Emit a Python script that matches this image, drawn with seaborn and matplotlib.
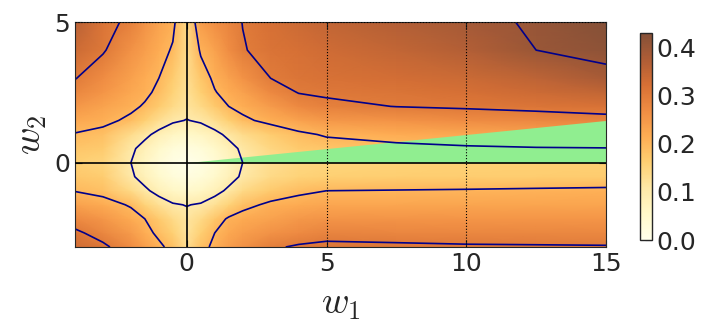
import numpy as np
import seaborn as sns
import matplotlib.pyplot as plt
from matplotlib.colors import ListedColormap

sns.set_style("ticks", {"xtick.direction": "in", "ytick.direction": "in"})
plt.rcParams["font.family"] = ["DejaVu Sans"]
plt.rcParams["mathtext.fontset"] = "cm"


# grid positions
w1 = [-4, -3, -2, -1.5, -1, -0.5, 0, 0.5, 1, 1.5, 2, 3, 4, 5, 7.5, 10, 12.5, 15]
w2 = [-3, -2.5, -2, -1.5, -1, -0.5, 0, 0.5, 1, 1.5, 2, 2.5, 3, 4, 5]

# loss values, one row per w2 value
loss_m30 = [0.33, 0.31, 0.27, 0.24, 0.21, 0.185, 0.13, 0.185, 0.21, 0.24, 0.26, 0.293, 0.306, 0.311, 0.308, 0.305, 0.304, 0.303]
loss_m25 = [0.31, 0.28, 0.245, 0.215, 0.19, 0.16, 0.12, 0.16, 0.2, 0.225, 0.24, 0.26, 0.273, 0.284, 0.282, 0.28, 0.279, 0.278]
loss_m20 = [0.275, 0.252, 0.22, 0.2, 0.17, 0.14, 0.115, 0.14, 0.175, 0.207, 0.22, 0.235, 0.249, 0.256, 0.256, 0.254, 0.254, 0.254]
loss_m15 = [0.236, 0.22, 0.195, 0.155, 0.127, 0.105, 0.098, 0.105, 0.127, 0.155, 0.185, 0.21, 0.22, 0.227, 0.228, 0.229, 0.23, 0.23]
loss_m10 = [0.198, 0.185, 0.14, 0.11, 0.082, 0.062, 0.05, 0.062, 0.082, 0.11, 0.14, 0.17, 0.19, 0.2, 0.202, 0.204, 0.207, 0.21]
loss_m05 = [0.175, 0.165, 0.108, 0.079, 0.05, 0.029, 0.018, 0.029, 0.05, 0.079, 0.108, 0.14, 0.155, 0.16, 0.163, 0.165, 0.166, 0.167]
loss_p00 = [0.16, 0.15, 0.1, 0.065, 0.035, 0.0125, 0.0, 0.0125, 0.035, 0.065, 0.1, 0.13, 0.145, 0.15, 0.155, 0.158, 0.16, 0.16]
loss_p05 = [0.178, 0.168, 0.11, 0.081, 0.052, 0.03, 0.019, 0.03, 0.052, 0.081, 0.11, 0.145, 0.168, 0.178, 0.188, 0.194, 0.197, 0.198]
loss_p10 = [0.197, 0.185, 0.135, 0.112, 0.085, 0.064, 0.053, 0.064, 0.085, 0.112, 0.135, 0.165, 0.19, 0.205, 0.217, 0.224, 0.232, 0.24]
loss_p15 = [0.224, 0.213, 0.19, 0.16, 0.13, 0.108, 0.098, 0.108, 0.13, 0.16, 0.19, 0.214, 0.234, 0.249, 0.258, 0.27, 0.277, 0.285]
loss_p20 = [0.251, 0.233, 0.21, 0.195, 0.168, 0.14, 0.118, 0.14, 0.17, 0.2, 0.214, 0.245, 0.275, 0.289, 0.301, 0.306, 0.312, 0.319]
loss_p25 = [0.28, 0.255, 0.225, 0.21, 0.19, 0.155, 0.125, 0.16, 0.197, 0.218, 0.235, 0.275, 0.302, 0.307, 0.314, 0.322, 0.335, 0.35]
loss_p30 = [0.302, 0.27, 0.236, 0.218, 0.2, 0.167, 0.13, 0.175, 0.21, 0.235, 0.258, 0.3, 0.312, 0.318, 0.326, 0.337, 0.356, 0.382]
loss_p40 = [0.335, 0.305, 0.26, 0.24, 0.218, 0.195, 0.137, 0.207, 0.235, 0.268, 0.297, 0.315, 0.322, 0.332, 0.348, 0.368, 0.4, 0.418]
loss_p50 = [0.36, 0.315, 0.29, 0.26, 0.235, 0.212, 0.14, 0.243, 0.265, 0.283, 0.301, 0.322, 0.336, 0.348, 0.368, 0.388, 0.405, 0.43]

levels = [0.1, 0.2, 0.3, 0.4]
cbar_ticks = [0.0, 0.1, 0.2, 0.3, 0.4]
x_ticks = [0, 5, 10, 15]
y_ticks = [0, 5]

# green wedge corners
wedge_x = [0, 15]
wedge_top = [0, 1.5]


Z = np.array([loss_m30, loss_m25, loss_m20, loss_m15, loss_m10, loss_m05, loss_p00,
              loss_p05, loss_p10, loss_p15, loss_p20, loss_p25, loss_p30, loss_p40, loss_p50])
X, Y = np.meshgrid(w1, w2)

# YlOrBr faded towards white
base = sns.color_palette("YlOrBr", as_cmap=True)(np.linspace(0, 1, 256))
base[:, :3] = 0.8 * base[:, :3] + 0.2
cmap = ListedColormap(base)

fig = plt.figure(figsize=(7.06, 3.36), dpi=100)
ax = fig.add_axes([75 / 706, 1 - 247 / 336, 531 / 706, 225 / 336])
cax = fig.add_axes([640 / 706, 1 - 240 / 336, 12 / 706, 207 / 336])

mesh = ax.pcolormesh(X, Y, Z, shading="gouraud", cmap=cmap, vmin=0, vmax=0.43, zorder=0)
ax.fill_between(wedge_x, [0, 0], wedge_top, color="lightgreen", lw=0, zorder=1)
ax.contour(X, Y, Z, levels=levels, colors="darkblue", linewidths=1.2, zorder=2)

ax.axhline(0, color="k", lw=1.2, zorder=3)
ax.axvline(0, color="k", lw=1.2, zorder=3)
for xv in [5, 10]:
    ax.axvline(xv, color="k", lw=0.8, ls=":", zorder=3)
ax.axhline(5, color="k", lw=0.8, ls=":", zorder=3)

ax.set_xlim(-4, 15)
ax.set_ylim(-3, 5)
ax.set_xticks(x_ticks)
ax.set_yticks(y_ticks)
ax.tick_params(labelsize=18, length=5, top=True, right=True)
ax.set_xlabel(r"$w_1$", fontsize=27, labelpad=7)
ax.set_ylabel(r"$w_2$", fontsize=27, labelpad=4)

cb = fig.colorbar(mesh, cax=cax, ticks=cbar_ticks)
cb.ax.tick_params(labelsize=18, direction="in", length=5)
cb.ax.set_yticklabels([f"{t:.1f}" for t in cbar_ticks])
cb.outline.set_linewidth(1)

fig.savefig("out.png", dpi=100)
